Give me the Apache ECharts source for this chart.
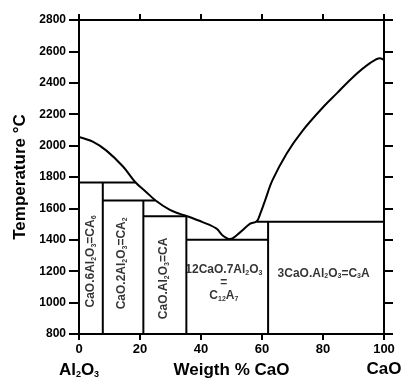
<!DOCTYPE html>
<html>
<head>
<meta charset="utf-8">
<script src="https://cdn.jsdelivr.net/npm/echarts@6/dist/echarts.min.js"></script>
<style>
  html, body { margin: 0; padding: 0; background: #fff; }
  #phase { width: 406px; height: 379px; }
</style>
</head>
<body>
<div id="phase"></div>
<script>
// liquidus (weight % CaO, temperature)
const liquidusX = [0, 4.5, 9, 14.5, 18.4, 22, 25, 29.8, 33.1, 35.2, 40.7, 45.1, 47.2, 49.5, 52.8, 56, 58.3, 59.5, 61, 63.4, 68.1, 73.4, 80, 84.6, 89.8, 95.4, 98.7, 100];
const liquidusT = [2055, 2025, 1968, 1865, 1768, 1705, 1652, 1590, 1565, 1552, 1511, 1471, 1426, 1405, 1447, 1501, 1518, 1570, 1650, 1778, 1950, 2097, 2244, 2334, 2436, 2525, 2557, 2545];

// compound fields: top temperature, horizontal line start/end, right edge
const fieldNames = ['CA6', 'CA2', 'CA', 'C12A7', 'C3A'];
const fieldTopT = [1765, 1650, 1550, 1400, 1515];
const lineStart = [0, 7.8, 21.1, 35.2, 58.3];
const lineEnd = [18.4, 25, 35.2, 62, 100];
const fieldRight = [7.8, 21.1, 35.2, 62, 100];

// label centres (weight % CaO, temperature)
const labelText = [
  'CaO.6Al{s|2}O{s|3}=CA{s|6}',
  'CaO.2Al{s|2}O{s|3}=CA{s|2}',
  'CaO.Al{s|2}O{s|3}=CA',
  '12CaO.7Al{s|2}O{s|3}\n=\nC{s|12}A{s|7}',
  '3CaO.Al{s|2}O{s|3}=C{s|3}A'
];
const labelX = [3.9, 14.1, 27.8, 47.5, 80.2];
const labelT = [1262, 1250, 1154, 1125, 1186];
const labelRotate = [90, 90, 90, 0, 0];

const xTicks = [0, 100, 20];
const yTicks = [800, 2800, 200];

let chart = echarts.init(document.getElementById('phase'));

let lineStyle = { color: '#000', width: 2 };
let series = [];

series.push({
  type: 'line',
  smooth: 0.35,
  symbol: 'none',
  lineStyle: lineStyle,
  data: liquidusX.map((x, i) => [x, liquidusT[i]])
});

fieldNames.forEach((name, i) => {
  series.push({
    type: 'line',
    symbol: 'none',
    lineStyle: lineStyle,
    data: [[lineStart[i], fieldTopT[i]], [lineEnd[i], fieldTopT[i]]]
  });
  if (i < fieldNames.length - 1) {
    series.push({
      type: 'line',
      symbol: 'none',
      lineStyle: lineStyle,
      data: [[fieldRight[i], yTicks[0]], [fieldRight[i], Math.max(fieldTopT[i], fieldTopT[i + 1])]]
    });
  }
});

series.push({
  type: 'scatter',
  symbolSize: 0,
  silent: true,
  label: {
    show: true,
    position: 'inside',
    color: '#000',
    fontFamily: 'Liberation Sans',
    fontWeight: 'bold',
    fontSize: 12,
    lineHeight: 13,
    align: 'center',
    formatter: p => labelText[p.dataIndex],
    rich: {
      s: { fontSize: 7, fontFamily: 'Liberation Sans', fontWeight: 'bold', verticalAlign: 'bottom', lineHeight: 13 }
    }
  },
  data: labelX.map((x, i) => ({ value: [x, labelT[i]], label: { rotate: labelRotate[i] } }))
});

let tickText = { color: '#000', fontFamily: 'Liberation Sans', fontWeight: 'bold', fontSize: 13 };
let axisLine = { show: true, onZero: false, lineStyle: { color: '#000', width: 2 } };

let option = {
  animation: false,
  grid: { left: 79, right: 22, top: 20, bottom: 45, containLabel: false, outerBoundsMode: 'none' },
  xAxis: [{
    type: 'value',
    position: 'bottom',
    min: xTicks[0], max: xTicks[1], interval: xTicks[2],
    axisLine: axisLine,
    axisTick: { show: true, inside: false, length: 6, lineStyle: { color: '#000', width: 2 } },
    axisLabel: Object.assign({ margin: 9, showMinLabel: true, showMaxLabel: true, formatter: v => String(v) }, tickText),
    splitLine: { show: false },
    name: 'Weigth % CaO',
    nameLocation: 'middle',
    nameGap: 28,
    nameTextStyle: { color: '#000', fontFamily: 'Liberation Sans', fontWeight: 'bold', fontSize: 17 }
  }, {
    type: 'value',
    position: 'top',
    min: xTicks[0], max: xTicks[1], interval: xTicks[2],
    axisLine: axisLine,
    axisTick: { show: true, inside: false, length: 6, lineStyle: { color: '#000', width: 2 } },
    axisLabel: { show: false },
    splitLine: { show: false }
  }, {
    type: 'value',
    position: 'bottom',
    min: xTicks[0], max: xTicks[1], interval: xTicks[1],
    axisLine: { show: false },
    axisTick: { show: false },
    splitLine: { show: false },
    axisLabel: {
      margin: 27,
      showMinLabel: true,
      showMaxLabel: true,
      color: '#000', fontFamily: 'Liberation Sans', fontWeight: 'bold', fontSize: 17,
      formatter: v => v === 0 ? 'Al{s|2}O{s|3}' : 'CaO',
      rich: { s: { fontSize: 9, fontFamily: 'Liberation Sans', fontWeight: 'bold', verticalAlign: 'bottom', lineHeight: 18 } }
    }
  }],
  yAxis: [{
    type: 'value',
    position: 'left',
    min: yTicks[0], max: yTicks[1], interval: yTicks[2],
    axisLine: axisLine,
    axisTick: { show: true, inside: false, length: 10, lineStyle: { color: '#000', width: 2 } },
    axisLabel: Object.assign({ margin: 13 }, tickText, { fontSize: 12, formatter: v => String(v) }),
    splitLine: { show: false },
    name: 'Temperature °C',
    nameLocation: 'middle',
    nameGap: 46,
    nameTextStyle: { color: '#000', fontFamily: 'Liberation Sans', fontWeight: 'bold', fontSize: 17 }
  }, {
    type: 'value',
    position: 'right',
    min: yTicks[0], max: yTicks[1], interval: yTicks[2],
    axisLine: axisLine,
    axisTick: { show: true, inside: false, length: 9, lineStyle: { color: '#000', width: 2 } },
    axisLabel: { show: false },
    splitLine: { show: false }
  }],
  series: series
};

option && chart.setOption(option);
</script>
</body>
</html>
